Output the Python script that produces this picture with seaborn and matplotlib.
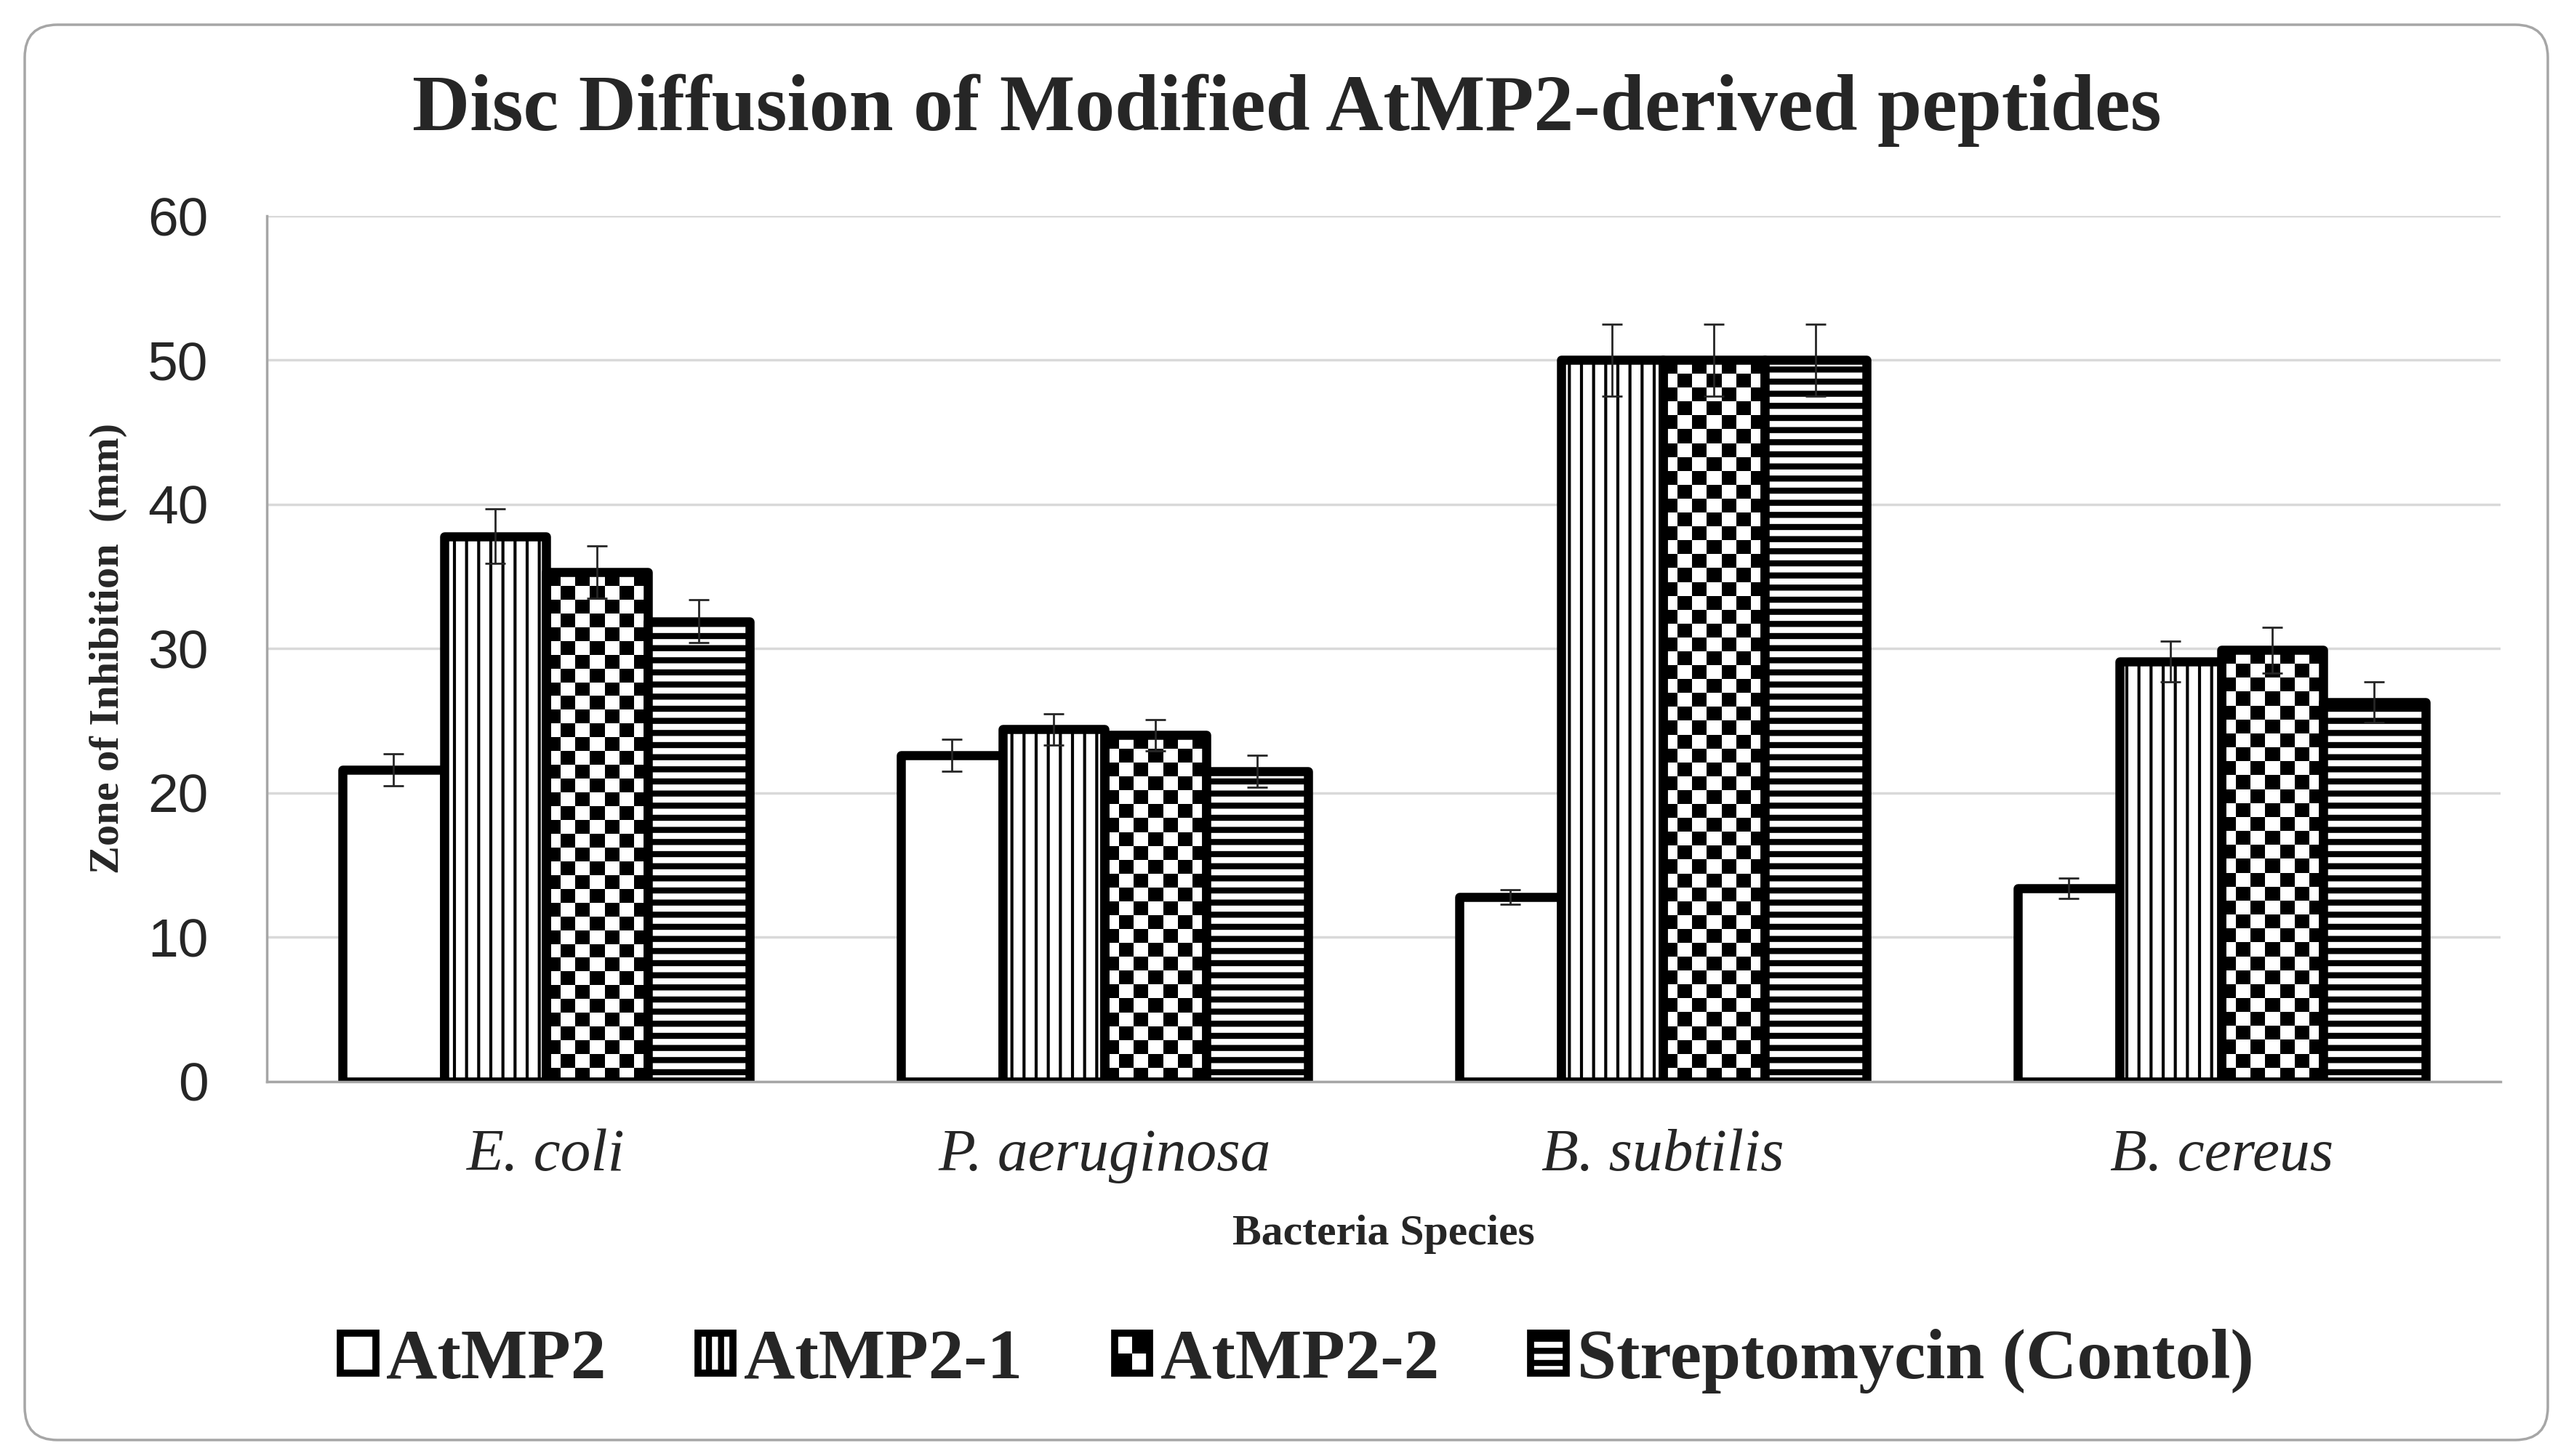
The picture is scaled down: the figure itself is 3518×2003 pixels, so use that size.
import numpy as np
import pandas as pd
import matplotlib
matplotlib.use("Agg")
import matplotlib.pyplot as plt
from matplotlib.patches import FancyBboxPatch, Patch, Rectangle
from matplotlib.legend_handler import HandlerBase
import seaborn as sns

# === Data ===
species = ["E. coli", "P. aeruginosa", "B. subtilis", "B. cereus"]
peptides = ["AtMP2", "AtMP2-1", "AtMP2-2", "Streptomycin (Contol)"]

atmp2 = [21.6, 22.6, 12.8, 13.4]
atmp2_1 = [37.8, 24.4, 50.0, 29.1]
atmp2_2 = [35.3, 24.0, 50.0, 29.9]
strep = [31.9, 21.5, 50.0, 26.3]

atmp2_err = [1.1, 1.1, 0.5, 0.7]
atmp2_1_err = [1.9, 1.1, 2.5, 1.4]
atmp2_2_err = [1.8, 1.1, 2.5, 1.6]
strep_err = [1.5, 1.1, 2.5, 1.4]

yticks = [0, 10, 20, 30, 40, 50, 60]

# === Setup ===
sns.set_theme(style="white")
serif = ["Liberation Serif", "DejaVu Serif"]
sans = ["Liberation Sans", "DejaVu Sans"]
plt.rcParams["font.family"] = serif
plt.rcParams["hatch.linewidth"] = 6
plt.rcParams["hatch.color"] = "black"

values = [atmp2, atmp2_1, atmp2_2, strep]
errors = [atmp2_err, atmp2_1_err, atmp2_2_err, strep_err]
hatches = ["", "|", None, "-"]

df = pd.DataFrame({
    "species": species * len(peptides),
    "peptide": np.repeat(peptides, len(species)),
    "zone": np.concatenate(values),
})

fig = plt.figure(figsize=(35.18, 20.03), dpi=100)
ax = fig.add_axes([0.1043, 0.2573, 0.8733, 0.5944])

sns.barplot(data=df, x="species", y="zone", hue="peptide", order=species,
            hue_order=peptides, palette=["white"] * 4, saturation=1,
            edgecolor="black", linewidth=9, width=0.73, gap=0,
            errorbar=None, legend=False, ax=ax)

ax.set_xlim(-0.5, 3.5)
ax.set_ylim(0, 60)

# hatches
for cont, h in zip(ax.containers, hatches):
    for bar in cont:
        bar.set_zorder(2)
        bar.set_joinstyle("round")
        if h:
            bar.set_hatch(h)
            if h == "|" and hasattr(bar, "set_hatch_linewidth"):
                bar.set_hatch_linewidth(3)

# checkerboard fill for AtMP2-2 (no matplotlib hatch for it)
sq = 19
for bar in ax.containers[2]:
    bar.set_facecolor("none")
    x0, w, h = bar.get_x(), bar.get_width(), bar.get_height()
    p0 = ax.transData.transform((x0, 0))
    p1 = ax.transData.transform((x0 + w, h))
    ncol = max(1, int(round((p1[0] - p0[0]) / sq)))
    nrow = max(1, int(round((p1[1] - p0[1]) / sq)))
    board = (np.indices((nrow, ncol)).sum(axis=0) % 2).astype(float)
    im = ax.imshow(board, extent=(x0, x0 + w, 0, h), cmap="gray", vmin=0, vmax=1,
                   interpolation="nearest", aspect="auto", zorder=1.5)
    im.set_clip_path(bar)

# error bars
for cont, err in zip(ax.containers, errors):
    xs = [b.get_x() + b.get_width() / 2 for b in cont]
    ys = [b.get_height() for b in cont]
    ax.errorbar(xs, ys, yerr=err, fmt="none", ecolor="#262626",
                elinewidth=2, capsize=10, capthick=2, zorder=4)

ax.set_xlim(-0.5, 3.5)
ax.set_ylim(0, 60)

# === Axes styling ===
ax.set_axisbelow(True)
ax.yaxis.grid(True, color="#d9d9d9", linewidth=2.5)
ax.xaxis.grid(False)
for s in ["top", "right"]:
    ax.spines[s].set_visible(False)
for s in ["left", "bottom"]:
    ax.spines[s].set_color("#a6a6a6")
    ax.spines[s].set_linewidth(2.5)

ax.set_yticks(yticks)
ax.tick_params(axis="y", labelsize=54, length=0, pad=58)
ax.tick_params(axis="x", labelsize=60, length=0, pad=47)
for lbl in ax.get_yticklabels():
    lbl.set_fontfamily(sans)
for lbl in ax.get_xticklabels():
    lbl.set_fontstyle("italic")

ax.set_xlabel("Bacteria Species", fontsize=43, fontweight="bold")
ax.xaxis.set_label_coords(0.5, -0.154)
ax.set_ylabel("Zone of Inhibition  (mm)", fontsize=42, fontweight="bold")
ax.yaxis.set_label_coords(-0.0625, 0.5)

fig.text(0.503, 0.924, "Disc Diffusion of Modified AtMP2-derived peptides",
         ha="center", va="center", fontsize=79, fontweight="bold")


# === Legend ===
class CheckerHandler(HandlerBase):
    def create_artists(self, legend, orig_handle, xdescent, ydescent,
                       width, height, fontsize, trans):
        x0, y0 = -xdescent, -ydescent
        arts = [
            Rectangle((x0, y0), width, height, facecolor="white", edgecolor="none", transform=trans),
            Rectangle((x0 + width / 2, y0 + height / 2), width / 2, height / 2,
                      facecolor="black", edgecolor="none", transform=trans),
            Rectangle((x0, y0), width / 2, height / 2,
                      facecolor="black", edgecolor="none", transform=trans),
            Rectangle((x0, y0), width, height, facecolor="none", edgecolor="black",
                      linewidth=7, transform=trans),
        ]
        return arts


handles = [Patch(facecolor="white", edgecolor="black", linewidth=7, hatch=h or "")
           for h in hatches]
fig.legend(handles, peptides, handler_map={handles[2]: CheckerHandler()},
           loc="center", bbox_to_anchor=(0.507, 0.065), ncol=4, frameon=False,
           prop={"family": serif, "weight": "bold", "size": 70},
           handlelength=0.5, handleheight=0.5, handletextpad=0.15, columnspacing=1.3)

# rounded outer frame
frame = FancyBboxPatch((0.34, 0.22), 34.70, 19.47, boxstyle="round,pad=0,rounding_size=0.45",
                       transform=fig.dpi_scale_trans, facecolor="none",
                       edgecolor="#a6a6a6", linewidth=2.5)
fig.add_artist(frame)

fig.savefig("out.png", dpi=100)
